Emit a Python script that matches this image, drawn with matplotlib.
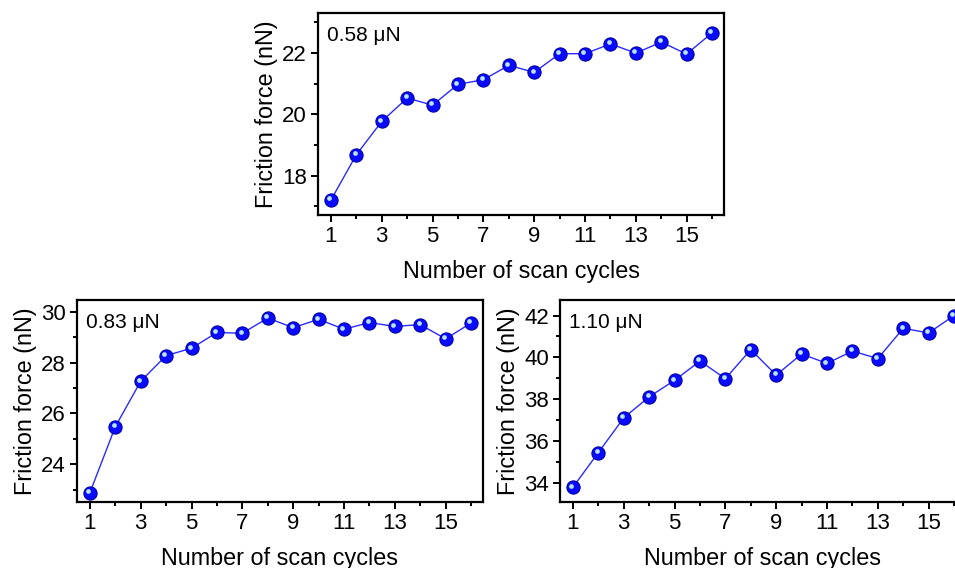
import numpy as np
import matplotlib
matplotlib.use('Agg')
import matplotlib.pyplot as plt
import matplotlib.transforms as mtransforms
from matplotlib.ticker import MultipleLocator

plt.rcParams['font.family'] = ['Liberation Sans', 'DejaVu Sans']

cycles = list(range(1, 17))
f_058 = [17.20, 18.68, 19.77, 20.53, 20.30, 20.98, 21.13, 21.60,
         21.37, 21.98, 21.98, 22.30, 22.00, 22.36, 21.97, 22.66]
f_083 = [22.88, 25.48, 27.27, 28.28, 28.57, 29.19, 29.16, 29.76,
         29.38, 29.71, 29.32, 29.58, 29.43, 29.50, 28.94, 29.56]
f_110 = [33.78, 35.44, 37.10, 38.11, 38.90, 39.82, 38.98, 40.37,
         39.15, 40.16, 39.71, 40.30, 39.94, 41.39, 41.17, 42.00]
loads = ['0.58 \u03bcN', '0.83 \u03bcN', '1.10 \u03bcN']

fig = plt.figure(figsize=(9.55, 5.68), dpi=100)

# [left, bottom, width, height] in figure fraction
panels = [
    ([0.333, 0.6215, 0.4251, 0.3556], f_058, loads[0], (16.71, 23.31), [18, 20, 22]),
    ([0.0806, 0.1162, 0.4251, 0.3565], f_083, loads[1], (22.51, 30.49), [24, 26, 28, 30]),
    ([0.5864, 0.1162, 0.4251, 0.3565], f_110, loads[2], (33.07, 42.77), [34, 36, 38, 40, 42]),
]

for rect, force, load, ylim, yticks in panels:
    ax = fig.add_axes(rect)
    ax.plot(cycles, force, '-', color='#2a2aff', lw=1.0, zorder=2)
    ax.plot(cycles, force, 'o', ms=9.5, mfc='#0a0aff', mec='#0000a8', mew=0.8, zorder=3)
    # small highlight on each ball
    hl = mtransforms.offset_copy(ax.transData, fig=fig, x=-1.2, y=1.2, units='points')
    ax.plot(cycles, force, 'o', ms=3.4, mfc='#b8e4ff', mec='none', transform=hl, zorder=4)

    ax.set_xlim(0.49, 16.47)
    ax.set_ylim(*ylim)
    ax.set_xticks([1, 3, 5, 7, 9, 11, 13, 15])
    ax.xaxis.set_minor_locator(MultipleLocator(1))
    ax.set_yticks(yticks)
    ax.yaxis.set_minor_locator(MultipleLocator(1))
    ax.tick_params(which='major', direction='out', length=5, width=1.4, labelsize=16, pad=3)
    ax.tick_params(which='minor', direction='out', length=3, width=1.4)
    for s in ax.spines.values():
        s.set_linewidth(1.6)

    ax.set_xlabel('Number of scan cycles', fontsize=16.8, labelpad=9)
    ax.set_ylabel('Friction force (nN)', fontsize=16.8, labelpad=3)
    ax.text(0.022, 0.935, load, transform=ax.transAxes, fontsize=15, va='top', ha='left')

fig.savefig('out.png', dpi=100)
